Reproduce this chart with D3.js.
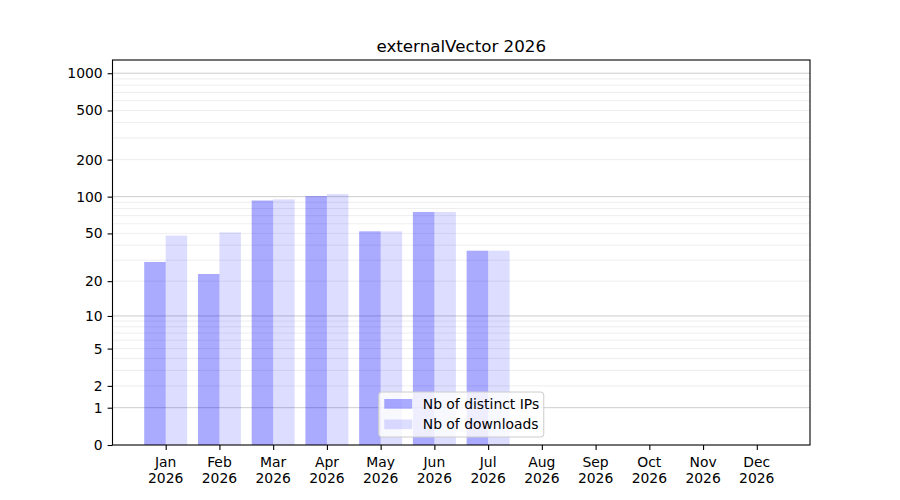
<!DOCTYPE html>
<html>
<head>
<meta charset="utf-8">
<script src="https://cdn.jsdelivr.net/npm/d3@7"></script>
<style>
  body { margin: 0; background: white; }
  text { font-family: "DejaVu Sans", sans-serif; fill: black; }
</style>
</head>
<body>
<div id="fig"></div>
<script>
const fig_width = 900
const fig_height = 500

const chart_title = "externalVector 2026"
const months = ["Jan", "Feb", "Mar", "Apr", "May", "Jun", "Jul", "Aug", "Sep", "Oct", "Nov", "Dec"]
const year_label = "2026"
const distinct_ips = [29, 23, 93, 101, 52, 75, 36, 0, 0, 0, 0, 0]
const downloads = [48, 51, 95, 105, 52, 75, 36, 0, 0, 0, 0, 0]
const y_ticks = [0, 1, 2, 5, 10, 20, 50, 100, 200, 500, 1000]
const y_major_grid = [1, 10, 100, 1000]
const y_minor_grid = [2, 3, 4, 5, 6, 7, 8, 9, 20, 30, 40, 50, 60, 70, 80, 90, 200, 300, 400, 500, 600, 700, 800, 900]
const series_names = ["Nb of distinct IPs", "Nb of downloads"]

// axes box, same as matplotlib's default subplot params
const margin = {left: 112.5, right: 90, top: 60, bottom: 55}
const plot_w = fig_width - margin.left - margin.right
const plot_h = fig_height - margin.top - margin.bottom
const bar_w = 0.4

let fig = d3.select("#fig")
    .append("svg")
    .attr("width", fig_width)
    .attr("height", fig_height)

let x = d3.scaleLinear()
    .domain([-0.4 - 0.059 * 10, 11.4 + 0.059 * 10])
    .range([margin.left, margin.left + plot_w])

// log10(1 + v) style axis
let y = d3.scaleSymlog()
    .constant(1)
    .domain([0, 1279])
    .range([margin.top + plot_h, margin.top])

// grid first, bars are translucent on top of it
fig.append("g")
    .selectAll("line.minor")
    .data(y_minor_grid)
    .join("line")
    .attr("class", "minor")
    .attr("x1", margin.left).attr("x2", margin.left + plot_w)
    .attr("y1", d => y(d)).attr("y2", d => y(d))
    .style("stroke", "#b0b0b0")
    .style("stroke-opacity", 0.22)
    .style("stroke-width", 1)

fig.append("g")
    .selectAll("line.major")
    .data(y_major_grid)
    .join("line")
    .attr("class", "major")
    .attr("x1", margin.left).attr("x2", margin.left + plot_w)
    .attr("y1", d => y(d)).attr("y2", d => y(d))
    .style("stroke", "#b0b0b0")
    .style("stroke-opacity", 0.65)
    .style("stroke-width", 1)

let bars = fig.append("g")

bars.selectAll("rect.ips")
    .data(distinct_ips)
    .join("rect")
    .attr("class", "ips")
    .attr("x", (d, i) => x(i - bar_w))
    .attr("width", x(bar_w) - x(0))
    .attr("y", d => y(d))
    .attr("height", d => y(0) - y(d))
    .style("fill", "blue")
    .style("fill-opacity", 0.333)

bars.selectAll("rect.dl")
    .data(downloads)
    .join("rect")
    .attr("class", "dl")
    .attr("x", (d, i) => x(i))
    .attr("width", x(bar_w) - x(0))
    .attr("y", d => y(d))
    .attr("height", d => y(0) - y(d))
    .style("fill", "blue")
    .style("fill-opacity", 0.133)

// axes frame
fig.append("rect")
    .attr("x", margin.left)
    .attr("y", margin.top)
    .attr("width", plot_w)
    .attr("height", plot_h)
    .style("fill", "none")
    .style("stroke", "black")
    .style("stroke-width", 1.1)

// y axis
let y_axis = fig.append("g")
    .attr("transform", `translate(${margin.left},0)`)
    .call(d3.axisLeft(y).tickValues(y_ticks).tickFormat(d3.format("d")).tickSize(4.9).tickPadding(4.9))
y_axis.select(".domain").remove()
y_axis.selectAll("text")
    .style("font-size", "13.9px")
    .style("font-family", "DejaVu Sans")
y_axis.selectAll("line").style("stroke-width", 1.1)

// x axis with two-line month labels
let x_axis = fig.append("g")
    .attr("transform", `translate(0,${margin.top + plot_h})`)
    .call(d3.axisBottom(x).tickValues(d3.range(months.length)).tickFormat("").tickSize(4.9))
x_axis.select(".domain").remove()
x_axis.selectAll("line").style("stroke-width", 1.1)

let x_labels = fig.append("g")
    .selectAll("text")
    .data(months)
    .join("text")
    .attr("x", (d, i) => x(i))
    .attr("y", margin.top + plot_h + 22)
    .attr("text-anchor", "middle")
    .style("font-size", "13.9px")
x_labels.append("tspan").attr("x", (d, i) => x(i)).text(d => d)
x_labels.append("tspan").attr("x", (d, i) => x(i)).attr("dy", 16).text(year_label)

// title
fig.append("text")
    .attr("x", margin.left + plot_w / 2)
    .attr("y", margin.top - 8)
    .attr("text-anchor", "middle")
    .style("font-size", "16.7px")
    .text(chart_title)

// legend, lower center
const leg_w = 165
const leg_h = 45
let leg_x = margin.left + plot_w / 2 - leg_w / 2
let leg_y = margin.top + plot_h - 8 - leg_h
let legend = fig.append("g").attr("transform", `translate(${leg_x},${leg_y})`)
legend.append("rect")
    .attr("width", leg_w)
    .attr("height", leg_h)
    .attr("rx", 3)
    .style("fill", "white")
    .style("fill-opacity", 0.8)
    .style("stroke", "#cccccc")
    .style("stroke-width", 1)

const leg_opacity = [0.333, 0.133]
series_names.forEach((name, i) => {
    legend.append("rect")
        .attr("x", 5.5)
        .attr("y", 7 + i * 20.5)
        .attr("width", 28)
        .attr("height", 9.7)
        .style("fill", "blue")
        .style("fill-opacity", leg_opacity[i])
    legend.append("text")
        .attr("x", 44)
        .attr("y", 16.5 + i * 20.5)
        .style("font-size", "13.9px")
        .text(name)
})
</script>
</body>
</html>
